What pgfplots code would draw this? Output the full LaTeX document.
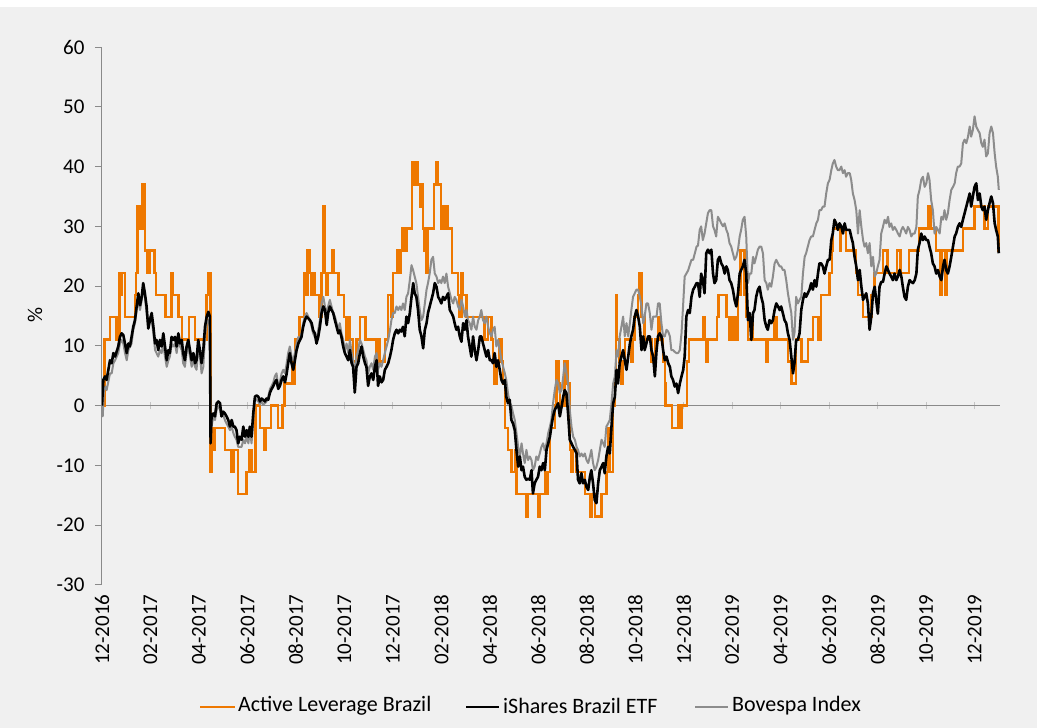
\documentclass[border=0pt]{standalone}
\usepackage{fontspec}
\setmainfont{Carlito}
\usepackage{pgfplots}
\pgfplotsset{compat=1.18}
\definecolor{bg}{HTML}{F0F0F0}
\definecolor{orng}{RGB}{238,120,0}
\definecolor{gry}{HTML}{8C8C8C}
\definecolor{axg}{HTML}{8A8A8A}
\definecolor{tkg}{HTML}{C4C4C4}
\begin{document}
\begin{tikzpicture}[font=\fontsize{21}{25}\selectfont]
\fill[bg] (-102pt,-143pt) rectangle (935pt,585pt);
\fill[white] (-102pt,578pt) rectangle (935pt,585pt);
\begin{axis}[
  at={(0pt,0pt)}, anchor=south west,
  scale only axis, width=898pt, height=538pt,
  xmin=0, xmax=37.05, ymin=-30, ymax=60,
  axis x line=middle, axis y line=left,
  axis line style={draw=axg, line width=1pt, -},
  xtick={0,2,...,36}, xticklabels={},
  ytick={-30,-20,...,60}, yticklabels={-30,-20,-10,0,10,20,30,40,50,60},
  tick align=outside,
  major tick length=7pt,
  ytick style={draw=axg, line width=1pt},
  xtick style={draw=tkg, line width=1pt, yshift=3.5pt},
  yticklabel style={font=\fontsize{21}{25}\selectfont, xshift=-7pt},
]
\addplot[orng, line width=2.5pt, const plot] coordinates {
(0,0) (0.10,11.11) (0.33,14.81) (0.60,11.11) (0.72,22.22) (0.78,18.52) (0.82,22.22) (0.95,14.81) (1.36,18.52) (1.40,22.22) (1.47,33.33) (1.54,29.63) (1.68,37.04) (1.77,25.93) (1.86,22.22) (1.95,25.93) (2.16,22.22) (2.23,18.52) (2.62,14.81) (2.87,22.22) (2.92,18.52) (3.15,14.81) (3.31,11.11) (3.58,14.81) (3.84,11.11) (4.32,18.52) (4.39,22.22) (4.47,-11.11) (4.52,-3.70) (4.60,-7.41) (4.66,-3.70) (5.07,-7.41) (5.35,-11.11) (5.42,-7.41) (5.62,-14.81) (5.97,-11.11) (6.06,-7.41) (6.17,-11.11) (6.34,0) (6.52,-3.70) (6.69,-7.41) (6.75,-3.70) (6.97,0) (7.27,-3.70) (7.44,0) (7.52,3.70) (7.85,7.41) (7.89,3.70) (7.96,11.11) (8.14,14.81) (8.34,22.22) (8.40,18.52) (8.48,25.93) (8.58,22.22) (8.65,18.52) (8.71,22.22) (8.78,18.52) (8.95,14.81) (9.06,22.22) (9.13,33.33) (9.20,22.22) (9.27,18.52) (9.31,22.22) (9.51,25.93) (9.57,22.22) (9.75,18.52) (9.99,14.81) (10.09,11.11) (10.16,14.81) (10.23,11.11) (10.36,7.41) (10.50,11.11) (10.64,14.81) (10.87,11.11) (11.33,7.41) (11.42,11.11) (11.46,7.41) (11.67,11.11) (11.81,18.52) (11.94,14.81) (12.01,22.22) (12.19,25.93) (12.29,22.22) (12.33,25.93) (12.38,29.63) (12.46,25.93) (12.56,29.63) (12.79,40.74) (12.90,37.04) (12.96,40.74) (13.04,37.04) (13.11,33.33) (13.18,37.04) (13.25,29.63) (13.29,25.93) (13.34,29.63) (13.39,22.22) (13.43,29.63) (13.70,37.04) (13.80,40.74) (13.87,37.04) (13.98,29.63) (14.07,33.33) (14.14,29.63) (14.21,33.33) (14.28,29.63) (14.44,22.22) (14.69,18.52) (14.76,14.81) (14.83,22.22) (14.90,18.52) (15.04,14.81) (15.79,11.11) (15.93,14.81) (16.06,11.11) (16.13,7.41) (16.20,3.70) (16.27,7.41) (16.41,11.11) (16.48,7.41) (16.55,3.70) (16.62,-3.70) (16.75,-7.41) (16.89,-11.11) (17.03,-7.41) (17.10,-14.81) (17.51,-18.52) (17.58,-14.81) (17.99,-18.52) (18.06,-14.81) (18.27,-11.11) (18.34,-14.81) (18.41,-11.11) (18.48,-3.70) (18.68,0) (18.75,7.41) (18.85,3.70) (18.89,0) (19.09,7.41) (19.20,3.70) (19.30,-7.41) (19.34,-11.11) (19.44,-7.41) (19.58,-11.11) (19.92,-14.81) (20.13,-18.52) (20.19,-14.81) (20.33,-18.52) (20.61,-14.81) (20.81,-11.11) (20.88,-3.70) (20.95,-11.11) (21.09,0) (21.16,3.70) (21.20,18.52) (21.25,11.11) (21.36,7.41) (21.43,3.70) (21.50,7.41) (21.57,11.11) (21.84,7.41) (21.91,11.11) (21.98,14.81) (22.12,18.52) (22.16,22.22) (22.26,14.81) (22.39,11.11) (22.67,7.41) (22.81,11.11) (22.94,14.81) (23.01,11.11) (23.15,7.41) (23.22,3.70) (23.25,0) (23.52,-3.70) (23.77,0) (23.84,-3.70) (23.91,0) (24.14,7.41) (24.21,11.11) (24.79,14.81) (24.86,11.11) (24.93,7.41) (25.00,11.11) (25.38,14.81) (25.44,18.52) (25.76,14.81) (25.89,11.11) (25.96,14.81) (26.03,11.11) (26.10,14.81) (26.17,11.11) (26.24,18.52) (26.35,25.93) (26.51,18.52) (26.58,14.81) (26.65,11.11) (26.79,14.81) (26.86,11.11) (27.41,7.41) (27.47,11.11) (27.75,14.81) (27.82,11.11) (28.30,7.41) (28.44,3.70) (28.64,11.11) (28.85,7.41) (29.12,11.11) (29.33,14.81) (29.56,11.11) (29.67,18.52) (30.02,22.22) (30.12,25.93) (30.15,29.63) (30.46,25.93) (30.50,29.63) (30.70,25.93) (31.10,22.22) (31.19,18.52) (31.40,14.81) (31.74,18.52) (31.88,22.22) (32.22,25.93) (32.40,22.22) (32.80,25.93) (32.95,22.22) (33.30,25.93) (33.70,29.63) (34.10,33.33) (34.20,29.63) (34.40,25.93) (34.58,18.52) (34.63,25.93) (34.78,18.52) (34.85,25.93) (35.52,29.63) (36.00,33.33) (36.40,29.63) (36.55,33.33) (36.98,25.93) (37.00,25.93)
};
\addplot[gry, line width=2pt, line join=round] coordinates {
(0,0) (0.03,-1.8) (0.08,2.6) (0.15,3.2) (0.19,2.6) (0.33,5.4) (0.40,5.4) (0.47,7.1) (0.54,7.6) (0.67,8.8) (0.74,10.4) (0.81,11.0) (0.88,10.4) (0.95,8.8) (1.02,7.6) (1.09,9.3) (1.15,9.9) (1.22,10.4) (1.29,12.7) (1.36,13.8) (1.43,16.0) (1.50,17.7) (1.57,16.0) (1.64,17.7) (1.70,19.9) (1.77,18.2) (1.84,15.5) (1.91,13.2) (1.98,14.9) (2.05,14.3) (2.12,12.1) (2.19,9.3) (2.25,8.8) (2.32,8.2) (2.39,9.3) (2.46,8.8) (2.53,10.4) (2.60,8.2) (2.67,6.5) (2.74,7.6) (2.80,8.2) (2.87,10.4) (2.94,9.9) (3.01,10.4) (3.08,8.8) (3.15,11.0) (3.22,9.9) (3.29,9.3) (3.35,7.1) (3.42,6.5) (3.49,8.8) (3.56,9.9) (3.63,8.2) (3.70,6.5) (3.77,7.6) (3.84,6.5) (3.90,6.0) (3.97,9.3) (4.04,8.2) (4.11,5.4) (4.18,6.5) (4.25,11.6) (4.32,13.8) (4.39,14.3) (4.45,13.2) (4.48,-3.5) (4.52,-3.5) (4.59,-1.8) (4.66,-2.4) (4.73,-0.7) (4.80,0.0) (4.87,-0.7) (4.93,-1.8) (5.00,-1.5) (5.07,-2.4) (5.14,-3.0) (5.21,-3.5) (5.28,-4.1) (5.35,-3.5) (5.42,-4.6) (5.48,-5.2) (5.55,-5.7) (5.62,-6.9) (5.69,-6.9) (5.76,-6.9) (5.83,-5.7) (5.90,-6.3) (5.97,-5.2) (6.04,-6.3) (6.10,-4.1) (6.17,-6.3) (6.24,-2.5) (6.31,1.2) (6.38,1.0) (6.45,0.7) (6.52,0.2) (6.58,0.7) (6.65,0.2) (6.72,0.4) (6.79,0.7) (6.86,1.5) (6.93,2.8) (7.0,3.3) (7.07,3.9) (7.13,4.9) (7.20,5.4) (7.27,3.3) (7.34,3.9) (7.41,5.4) (7.48,6.0) (7.55,5.4) (7.62,7.1) (7.68,8.8) (7.75,9.9) (7.82,8.2) (7.89,7.6) (7.96,8.8) (8.03,10.4) (8.10,11.5) (8.17,11.0) (8.23,12.1) (8.30,13.8) (8.37,14.9) (8.44,15.5) (8.51,14.9) (8.58,14.3) (8.65,13.2) (8.71,12.1) (8.78,11.5) (8.85,11.0) (8.92,12.6) (8.99,14.3) (9.06,17.1) (9.13,18.2) (9.20,16.6) (9.27,15.5) (9.33,16.6) (9.40,17.7) (9.47,16.6) (9.54,15.5) (9.61,14.9) (9.68,13.8) (9.75,12.6) (9.81,13.8) (9.88,12.1) (9.95,11.0) (10.02,9.3) (10.09,10.4) (10.16,8.8) (10.23,11.0) (10.30,8.8) (10.36,7.6) (10.43,4.9) (10.50,8.2) (10.57,9.3) (10.64,11.0) (10.71,10.4) (10.78,9.3) (10.85,8.2) (10.91,7.6) (10.98,5.4) (11.05,6.5) (11.12,7.1) (11.19,6.0) (11.26,8.2) (11.33,8.8) (11.39,6.0) (11.46,7.1) (11.53,6.5) (11.60,7.6) (11.67,8.8) (11.74,9.9) (11.81,11.0) (11.88,12.6) (11.94,14.3) (12.01,15.5) (12.08,15.5) (12.15,16.6) (12.22,16.0) (12.29,16.6) (12.35,16.0) (12.42,17.1) (12.49,16.0) (12.56,18.2) (12.63,18.8) (12.70,21.0) (12.77,23.5) (12.84,22.6) (12.90,21.6) (12.97,20.5) (13.04,18.2) (13.11,16.0) (13.18,14.3) (13.25,14.9) (13.32,17.1) (13.39,19.4) (13.45,20.5) (13.52,22.1) (13.59,24.4) (13.66,24.9) (13.73,22.1) (13.80,21.6) (13.87,20.5) (13.94,21.0) (14.00,20.5) (14.07,21.6) (14.14,20.5) (14.21,22.1) (14.28,19.9) (14.35,18.8) (14.42,17.7) (14.49,17.1) (14.55,18.2) (14.62,17.7) (14.69,16.6) (14.76,16.0) (14.83,17.7) (14.90,16.6) (14.97,14.9) (15.04,16.0) (15.10,14.3) (15.17,13.8) (15.24,12.7) (15.31,14.9) (15.38,13.2) (15.45,12.7) (15.52,14.3) (15.59,14.9) (15.65,16.0) (15.72,14.3) (15.79,13.8) (15.86,14.9) (15.93,13.2) (16.00,12.1) (16.07,11.6) (16.13,12.7) (16.20,13.2) (16.27,9.9) (16.34,11.0) (16.41,9.3) (16.48,7.6) (16.55,6.5) (16.62,5.4) (16.68,4.3) (16.75,2.1) (16.82,0.4) (16.89,0.0) (16.96,-1.3) (17.03,-2.4) (17.10,-4.6) (17.17,-6.9) (17.24,-8.5) (17.31,-6.3) (17.37,-8.0) (17.44,-9.6) (17.51,-7.4) (17.58,-9.1) (17.65,-8.5) (17.72,-9.1) (17.78,-10.8) (17.85,-10.2) (17.92,-8.5) (17.99,-9.1) (18.06,-8.0) (18.13,-6.9) (18.20,-6.3) (18.27,-7.5) (18.34,-6.3) (18.41,-4.6) (18.48,-3.5) (18.54,-2.4) (18.61,0.4) (18.68,2.6) (18.75,4.3) (18.82,3.7) (18.89,2.1) (18.96,2.6) (19.03,4.9) (19.09,7.1) (19.16,5.4) (19.23,3.7) (19.30,-0.7) (19.37,-3.5) (19.44,-5.2) (19.51,-5.7) (19.58,-6.9) (19.64,-7.4) (19.71,-8.5) (19.78,-8.0) (19.85,-8.5) (19.92,-8.0) (19.99,-9.1) (20.06,-9.6) (20.13,-8.5) (20.19,-7.4) (20.26,-9.6) (20.33,-10.8) (20.40,-10.2) (20.47,-9.1) (20.54,-7.4) (20.61,-5.7) (20.68,-6.3) (20.74,-6.9) (20.81,-3.5) (20.88,-3.0) (20.95,-2.4) (21.02,0.4) (21.09,3.7) (21.16,4.9) (21.23,9.3) (21.29,8.2) (21.36,11.6) (21.43,13.2) (21.50,14.9) (21.57,11.6) (21.64,13.8) (21.71,11.6) (21.78,13.8) (21.84,16.0) (21.91,18.2) (21.98,18.8) (22.05,19.4) (22.12,19.4) (22.19,18.2) (22.26,16.6) (22.33,13.8) (22.39,14.9) (22.46,17.1) (22.53,17.1) (22.60,15.5) (22.67,12.7) (22.74,14.9) (22.81,14.9) (22.88,14.9) (22.94,17.1) (23.01,17.1) (23.08,13.8) (23.15,11.6) (23.22,11.6) (23.29,12.7) (23.36,12.4) (23.43,11.6) (23.49,9.3) (23.56,9.3) (23.63,9.0) (23.70,8.8) (23.77,8.8) (23.84,9.3) (23.91,12.1) (23.98,17.1) (24.04,21.6) (24.11,22.1) (24.18,22.6) (24.25,23.5) (24.32,24.4) (24.39,24.4) (24.46,25.5) (24.53,26.6) (24.59,26.8) (24.66,29.4) (24.72,30.0) (24.79,27.7) (24.86,28.8) (24.93,30.5) (25.00,32.2) (25.07,32.7) (25.14,32.7) (25.21,30.0) (25.27,29.4) (25.34,28.3) (25.41,31.6) (25.48,31.1) (25.55,30.5) (25.62,30.0) (25.69,30.5) (25.76,29.4) (25.82,28.8) (25.89,27.2) (25.96,26.6) (26.03,25.5) (26.10,24.4) (26.17,24.9) (26.24,26.1) (26.31,28.3) (26.37,29.4) (26.44,31.1) (26.51,31.6) (26.58,28.3) (26.65,20.5) (26.72,22.1) (26.79,22.1) (26.86,24.9) (26.92,23.8) (26.99,24.9) (27.06,26.1) (27.13,26.6) (27.20,26.6) (27.27,25.5) (27.34,21.0) (27.41,20.5) (27.47,19.4) (27.54,20.5) (27.61,19.9) (27.68,21.6) (27.75,23.8) (27.82,24.4) (27.89,23.8) (27.96,23.3) (28.02,23.3) (28.09,22.7) (28.16,22.7) (28.23,21.0) (28.30,18.8) (28.37,17.1) (28.44,15.5) (28.51,11.0) (28.57,12.1) (28.64,18.2) (28.71,17.1) (28.78,17.7) (28.85,18.2) (28.92,22.1) (28.99,24.9) (29.05,25.5) (29.12,26.6) (29.19,27.7) (29.26,28.3) (29.33,28.3) (29.40,29.4) (29.47,30.5) (29.54,31.1) (29.60,32.7) (29.67,32.7) (29.74,33.3) (29.81,33.3) (29.88,35.5) (29.95,37.2) (30.02,37.8) (30.09,39.4) (30.15,40.5) (30.22,41.1) (30.29,40.0) (30.36,39.4) (30.43,39.4) (30.50,40.0) (30.57,38.9) (30.64,39.4) (30.70,38.3) (30.77,38.9) (30.85,38.9) (30.91,37.8) (30.98,35.5) (31.05,34.4) (31.12,32.7) (31.19,28.8) (31.26,32.7) (31.33,29.9) (31.40,27.7) (31.46,26.6) (31.53,27.2) (31.60,25.5) (31.67,27.2) (31.74,23.3) (31.81,24.9) (31.88,21.6) (31.94,22.1) (32.01,23.3) (32.08,24.4) (32.15,28.8) (32.22,29.9) (32.29,31.1) (32.36,30.5) (32.43,31.6) (32.49,29.9) (32.56,30.5) (32.63,29.4) (32.70,29.9) (32.77,29.4) (32.84,28.8) (32.91,28.3) (32.98,29.4) (33.04,29.9) (33.11,29.4) (33.18,28.8) (33.25,29.9) (33.32,29.4) (33.39,28.3) (33.46,28.8) (33.53,28.8) (33.60,29.9) (33.66,35.0) (33.73,36.1) (33.80,37.8) (33.87,38.3) (33.94,36.6) (34.01,37.2) (34.08,38.9) (34.14,37.8) (34.21,34.4) (34.28,32.7) (34.35,28.8) (34.42,29.9) (34.49,29.4) (34.56,28.8) (34.63,31.6) (34.70,31.1) (34.76,32.7) (34.83,31.1) (34.90,32.2) (34.97,34.4) (35.04,36.1) (35.11,36.6) (35.18,37.2) (35.24,38.9) (35.31,40.0) (35.38,40.0) (35.45,40.5) (35.52,43.9) (35.59,44.5) (35.66,43.9) (35.73,45.0) (35.80,46.7) (35.86,45.0) (35.93,46.1) (36.00,48.4) (36.07,46.7) (36.14,46.1) (36.21,45.6) (36.28,43.9) (36.34,43.3) (36.41,44.5) (36.48,41.7) (36.55,42.2) (36.62,45.6) (36.69,46.7) (36.76,45.6) (36.83,42.2) (36.89,40.0) (36.96,38.3) (37.00,36.1)
};
\addplot[black, line width=2.6pt, line join=round] coordinates {
(0,0) (0.055,4.3) (0.124,4.9) (0.19,4.3) (0.33,7.6) (0.40,7.1) (0.47,8.8) (0.54,8.2) (0.67,9.9) (0.74,11.5) (0.81,12.1) (0.88,11.8) (0.95,10.4) (1.02,8.8) (1.09,10.4) (1.15,9.9) (1.22,11.5) (1.29,13.2) (1.36,14.3) (1.43,16.6) (1.50,18.8) (1.57,16.8) (1.64,18.2) (1.70,20.5) (1.77,18.8) (1.84,16.6) (1.91,12.9) (1.98,14.3) (2.05,15.5) (2.12,13.2) (2.19,10.4) (2.25,11.0) (2.32,9.3) (2.39,11.0) (2.46,9.9) (2.53,12.1) (2.60,9.9) (2.67,7.6) (2.74,9.3) (2.80,8.8) (2.87,11.5) (2.94,11.0) (3.01,11.5) (3.08,9.9) (3.15,12.1) (3.22,10.4) (3.29,11.0) (3.35,8.8) (3.42,7.6) (3.49,9.9) (3.56,11.0) (3.63,9.3) (3.70,7.6) (3.77,8.8) (3.84,7.1) (3.90,7.6) (3.97,11.0) (4.04,9.3) (4.11,7.1) (4.18,9.3) (4.25,13.2) (4.32,14.9) (4.39,15.7) (4.45,14.9) (4.48,-6.3) (4.52,-1.8) (4.59,-1.3) (4.66,-1.8) (4.73,0.4) (4.80,0.7) (4.87,0.4) (4.93,-1.8) (5.00,-1.0) (5.07,-1.3) (5.14,-1.8) (5.21,-2.4) (5.28,-3.5) (5.35,-2.4) (5.42,-3.5) (5.48,-3.5) (5.55,-4.1) (5.62,-6.3) (5.69,-5.2) (5.76,-5.7) (5.83,-3.5) (5.90,-5.2) (5.97,-4.1) (6.04,-5.2) (6.10,-3.5) (6.17,-5.2) (6.24,-1.3) (6.31,1.5) (6.38,1.7) (6.45,1.5) (6.52,0.7) (6.58,1.2) (6.65,1.0) (6.72,0.7) (6.79,1.2) (6.86,1.0) (6.93,2.2) (7.0,2.8) (7.07,3.3) (7.13,3.9) (7.20,4.3) (7.27,2.8) (7.34,3.3) (7.41,4.3) (7.48,4.9) (7.55,3.9) (7.62,5.4) (7.68,7.1) (7.75,8.8) (7.82,7.1) (7.89,6.0) (7.96,7.6) (8.03,9.3) (8.10,10.4) (8.17,11.0) (8.23,11.5) (8.30,13.2) (8.37,14.3) (8.44,14.9) (8.51,14.6) (8.58,14.3) (8.65,13.8) (8.71,12.6) (8.78,12.1) (8.85,10.4) (8.92,11.5) (8.99,13.2) (9.06,15.5) (9.13,16.6) (9.20,16.0) (9.27,13.5) (9.33,15.5) (9.40,16.6) (9.47,16.0) (9.54,15.5) (9.61,14.3) (9.68,13.2) (9.75,12.1) (9.81,12.6) (9.88,11.5) (9.95,9.9) (10.02,8.8) (10.09,8.2) (10.16,7.6) (10.23,9.3) (10.30,7.1) (10.36,6.5) (10.43,2.2) (10.50,6.5) (10.57,7.1) (10.64,8.8) (10.71,9.9) (10.78,8.2) (10.85,7.1) (10.91,6.5) (10.98,3.3) (11.05,4.9) (11.12,5.4) (11.19,4.3) (11.26,6.5) (11.33,7.6) (11.39,3.3) (11.46,4.9) (11.53,3.9) (11.60,4.3) (11.67,6.0) (11.74,6.5) (11.81,7.1) (11.88,8.2) (11.94,9.3) (12.01,11.0) (12.08,12.1) (12.15,12.7) (12.22,12.1) (12.29,12.7) (12.35,12.4) (12.42,13.2) (12.49,11.6) (12.56,14.9) (12.63,13.8) (12.70,15.5) (12.77,18.2) (12.84,20.5) (12.90,18.8) (12.97,18.2) (13.04,16.0) (13.11,12.7) (13.18,11.6) (13.25,9.6) (13.32,12.7) (13.39,13.8) (13.45,15.5) (13.52,16.6) (13.59,17.7) (13.66,18.8) (13.73,20.5) (13.80,19.9) (13.87,18.2) (13.94,17.7) (14.00,17.1) (14.07,18.2) (14.14,17.7) (14.21,18.2) (14.28,18.8) (14.35,16.0) (14.42,15.5) (14.49,14.9) (14.55,13.8) (14.62,12.7) (14.69,13.2) (14.76,11.6) (14.83,10.7) (14.90,13.8) (14.97,12.7) (15.04,14.3) (15.10,11.6) (15.17,9.9) (15.24,8.2) (15.31,11.6) (15.38,9.3) (15.45,7.6) (15.52,9.3) (15.59,11.6) (15.65,11.6) (15.72,10.4) (15.79,9.3) (15.86,8.2) (15.93,9.3) (16.00,7.6) (16.07,7.6) (16.13,7.1) (16.20,8.8) (16.27,6.5) (16.34,7.6) (16.41,6.0) (16.48,4.3) (16.55,3.7) (16.62,4.3) (16.68,1.5) (16.75,0.4) (16.82,1.0) (16.89,-2.4) (16.96,-3.0) (17.03,-4.1) (17.10,-7.4) (17.17,-10.2) (17.24,-8.5) (17.31,-10.8) (17.37,-10.2) (17.44,-11.9) (17.51,-12.4) (17.58,-12.2) (17.65,-12.4) (17.72,-10.8) (17.78,-14.7) (17.85,-13.0) (17.92,-12.4) (17.99,-11.9) (18.06,-10.2) (18.13,-10.8) (18.20,-9.6) (18.27,-10.8) (18.34,-7.4) (18.41,-6.3) (18.48,-5.2) (18.54,-3.5) (18.61,-1.8) (18.68,-0.7) (18.75,-0.2) (18.82,0.4) (18.89,-1.8) (18.96,-0.2) (19.03,1.5) (19.09,2.6) (19.16,2.1) (19.23,-1.3) (19.30,-5.7) (19.37,-6.3) (19.44,-6.9) (19.51,-7.4) (19.58,-8.0) (19.64,-12.4) (19.71,-13.0) (19.78,-11.3) (19.85,-13.0) (19.92,-12.4) (19.99,-13.6) (20.06,-14.1) (20.13,-11.9) (20.19,-10.8) (20.26,-13.0) (20.33,-15.8) (20.40,-16.3) (20.47,-13.0) (20.54,-10.8) (20.61,-10.2) (20.68,-9.6) (20.74,-11.3) (20.81,-8.5) (20.88,-6.9) (20.95,-8.0) (21.02,-3.5) (21.09,0.4) (21.16,1.5) (21.23,6.0) (21.29,3.7) (21.36,7.1) (21.43,8.2) (21.50,9.3) (21.57,7.6) (21.64,6.0) (21.71,8.2) (21.78,10.4) (21.84,11.6) (21.91,12.7) (21.98,14.9) (22.05,16.0) (22.12,14.9) (22.19,13.2) (22.26,9.3) (22.33,11.6) (22.39,9.3) (22.46,10.4) (22.53,11.6) (22.60,11.6) (22.67,9.3) (22.74,8.2) (22.81,4.9) (22.88,9.3) (22.94,11.6) (23.01,12.1) (23.08,11.6) (23.15,9.3) (23.22,7.6) (23.29,8.2) (23.36,7.1) (23.43,6.5) (23.49,4.9) (23.56,4.3) (23.63,3.2) (23.70,3.7) (23.77,2.1) (23.84,3.7) (23.91,4.9) (23.98,6.0) (24.04,8.2) (24.11,14.9) (24.18,16.0) (24.25,15.5) (24.32,18.2) (24.39,19.4) (24.46,19.9) (24.53,20.5) (24.59,20.5) (24.66,18.2) (24.72,22.1) (24.79,21.0) (24.86,18.8) (24.93,25.5) (25.00,26.1) (25.07,25.5) (25.14,26.1) (25.21,22.1) (25.27,20.5) (25.34,21.0) (25.41,24.4) (25.48,24.9) (25.55,23.8) (25.62,23.3) (25.69,22.1) (25.76,23.3) (25.82,22.7) (25.89,21.0) (25.96,20.5) (26.03,19.4) (26.10,17.7) (26.17,16.6) (26.24,18.8) (26.31,22.1) (26.37,22.7) (26.44,23.3) (26.51,24.4) (26.58,22.1) (26.65,14.3) (26.72,15.5) (26.79,11.0) (26.86,15.5) (26.92,16.0) (26.99,18.2) (27.06,19.4) (27.13,19.9) (27.20,18.2) (27.27,17.1) (27.34,14.3) (27.41,13.2) (27.47,12.7) (27.54,14.3) (27.61,13.8) (27.68,14.3) (27.75,16.0) (27.82,17.1) (27.89,16.6) (27.96,16.0) (28.02,16.6) (28.09,15.5) (28.16,14.3) (28.23,13.8) (28.30,12.1) (28.37,11.0) (28.44,8.2) (28.51,5.4) (28.57,7.1) (28.64,11.0) (28.71,11.0) (28.78,12.1) (28.85,16.0) (28.92,17.7) (28.99,18.8) (29.05,18.2) (29.12,18.8) (29.19,19.4) (29.26,20.5) (29.33,19.4) (29.40,21.0) (29.47,19.9) (29.54,22.1) (29.60,23.8) (29.67,23.8) (29.74,23.3) (29.81,22.1) (29.88,23.3) (29.95,24.4) (30.02,24.4) (30.09,27.7) (30.15,28.8) (30.22,31.1) (30.29,30.5) (30.36,29.4) (30.43,30.5) (30.50,30.0) (30.57,28.8) (30.64,30.5) (30.70,29.4) (30.77,29.4) (30.85,29.4) (30.91,28.3) (30.98,27.2) (31.05,24.9) (31.12,23.3) (31.19,21.0) (31.26,22.7) (31.33,19.9) (31.40,17.7) (31.46,18.2) (31.53,18.8) (31.60,17.1) (31.67,12.7) (31.74,14.9) (31.81,18.8) (31.88,19.9) (31.94,17.7) (32.01,15.4) (32.08,19.9) (32.15,20.7) (32.22,20.7) (32.29,22.1) (32.36,23.3) (32.43,22.7) (32.49,22.1) (32.56,21.6) (32.63,21.0) (32.70,22.1) (32.77,21.0) (32.84,21.6) (32.91,22.7) (32.98,21.6) (33.04,19.9) (33.11,18.2) (33.18,17.7) (33.25,19.9) (33.32,21.0) (33.39,20.7) (33.46,20.5) (33.53,21.0) (33.60,22.1) (33.66,26.1) (33.73,27.2) (33.80,28.8) (33.87,27.7) (33.94,28.3) (34.01,27.7) (34.08,27.7) (34.14,26.6) (34.21,25.5) (34.28,23.8) (34.35,23.3) (34.42,22.1) (34.49,22.7) (34.56,21.6) (34.63,21.0) (34.70,23.3) (34.76,24.4) (34.83,22.7) (34.90,22.1) (34.97,23.3) (35.04,24.9) (35.11,26.6) (35.18,28.3) (35.24,28.8) (35.31,29.9) (35.38,30.5) (35.45,29.9) (35.52,31.1) (35.59,32.2) (35.66,33.3) (35.73,34.4) (35.80,35.5) (35.86,33.3) (35.93,35.0) (36.00,36.6) (36.07,37.2) (36.14,34.4) (36.21,35.5) (36.28,33.3) (36.34,32.7) (36.41,33.3) (36.48,31.1) (36.55,32.7) (36.62,33.9) (36.69,35.0) (36.76,33.9) (36.83,30.5) (36.89,29.4) (36.96,28.3) (37.00,25.5)
};
\end{axis}
\begin{axis}[
  at={(0pt,0pt)}, anchor=south west,
  scale only axis, width=898pt, height=538pt,
  xmin=0, xmax=37.05, ymin=-30, ymax=60,
  axis x line=bottom, axis y line=none,
  x axis line style={draw=none},
  xtick={0,2,...,36},
  xticklabels={12-2016,02-2017,04-2017,06-2017,08-2017,10-2017,12-2017,02-2018,04-2018,06-2018,08-2018,10-2018,12-2018,02-2019,04-2019,06-2019,08-2019,10-2019,12-2019},
  major tick length=0pt, xtick style={draw=none},
  xticklabel style={font=\fontsize{21}{25}\selectfont, rotate=90, anchor=east, xshift=-6pt},
]
\end{axis}
\node[rotate=90, font=\fontsize{21}{25}\selectfont] at (-67pt,270pt) {\%};
\begin{scope}[font=\fontsize{22}{26}\selectfont]
\draw[orng, line width=2.5pt] (98pt,-122pt) -- (133pt,-122pt);
\node[anchor=west, inner sep=0pt] at (136pt,-121pt) {Active Leverage Brazil};
\draw[black, line width=2.6pt] (364pt,-122pt) -- (397pt,-122pt);
\node[anchor=west, inner sep=0pt] at (401pt,-121pt) {iShares Brazil ETF};
\draw[gry, line width=2pt] (593pt,-122pt) -- (626pt,-122pt);
\node[anchor=west, inner sep=0pt] at (630pt,-121pt) {Bovespa Index};
\end{scope}
\pgfresetboundingbox
\path[use as bounding box] (-102pt,-143pt) rectangle (935pt,585pt);
\end{tikzpicture}
\end{document}
